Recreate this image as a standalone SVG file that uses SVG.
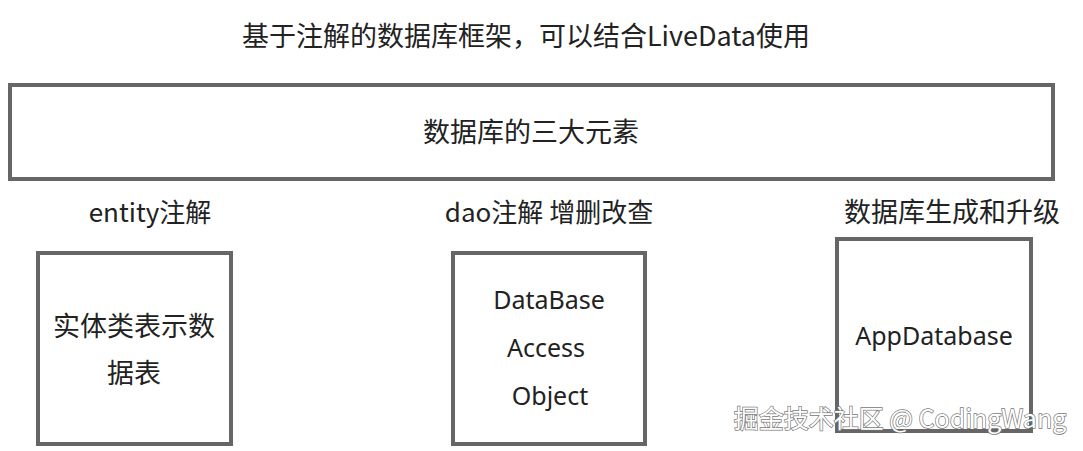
<svg xmlns="http://www.w3.org/2000/svg" width="1083" height="451" viewBox="0 0 1083 451">
<style>
.box{fill:#fff;stroke:#666;stroke-width:4}
.t{font-family:"Noto Sans CJK SC","Noto Sans",sans-serif;fill:#222;text-anchor:middle}
.l{font-family:"Noto Sans","Noto Sans CJK SC",sans-serif;fill:#222;text-anchor:middle}
.wm{font-family:"Noto Sans CJK SC","Noto Sans",sans-serif;fill:#fff;stroke:#777;stroke-width:1.4;paint-order:stroke;font-size:25px}
</style>
<rect width="1083" height="451" fill="#fff"/>
<g id="title"><text class="t" x="526" y="46" font-size="27">基于注解的数据库框架，可以结合LiveData使用</text></g>
<g id="banner">
<rect class="box" x="10" y="85" width="1043" height="94"/>
<text class="t" x="531" y="142" font-size="27">数据库的三大元素</text>
</g>
<g id="entity">
<text class="t" x="150" y="222" font-size="26">entity注解</text>
<rect class="box" x="38" y="253" width="193" height="191"/>
<text class="t" x="134" y="336" font-size="27">实体类表示数</text>
<text class="t" x="134" y="383" font-size="27">据表</text>
</g>
<g id="dao">
<text class="t" x="549" y="222" font-size="26">dao注解 增删改查</text>
<rect class="box" x="453" y="253" width="192" height="191"/>
<text class="l" x="549" y="309" font-size="25">DataBase</text>
<text class="l" x="546" y="357" font-size="25">Access</text>
<text class="l" x="550" y="405" font-size="25">Object</text>
</g>
<g id="appdb">
<text class="t" x="952" y="222" font-size="27">数据库生成和升级</text>
<rect class="box" x="837" y="239" width="194" height="192"/>
<text class="l" x="934" y="345" font-size="25">AppDatabase</text>
</g>
<g id="connectors"></g>
<g id="watermark"><text class="wm" x="900" y="428" text-anchor="middle">掘金技术社区 @ CodingWang</text></g>
</svg>
